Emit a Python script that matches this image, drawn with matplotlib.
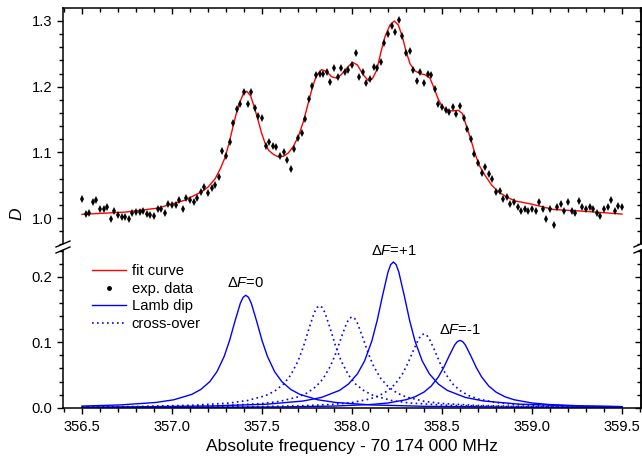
import matplotlib
matplotlib.use('Agg')
import matplotlib.pyplot as plt
from matplotlib.lines import Line2D
from matplotlib.patches import Polygon
from matplotlib.ticker import MultipleLocator

plt.rcParams['font.family'] = ['Liberation Sans', 'DejaVu Sans']
plt.rcParams['mathtext.fontset'] = 'custom'
plt.rcParams['mathtext.rm'] = 'Liberation Sans'
plt.rcParams['mathtext.it'] = 'Liberation Sans:italic'

# experimental points (MHz offset, D)
exp_f = [356.50, 356.52, 356.54, 356.56, 356.58, 356.60, 356.62, 356.64, 356.66, 356.68,
         356.70, 356.72, 356.74, 356.76, 356.78, 356.80, 356.82, 356.84, 356.86, 356.88,
         356.90, 356.92, 356.94, 356.96, 356.98, 357.00, 357.02, 357.04, 357.06, 357.08,
         357.10, 357.12, 357.14, 357.16, 357.18, 357.20, 357.22, 357.24, 357.26, 357.28,
         357.30, 357.32, 357.34, 357.36, 357.38, 357.40, 357.42, 357.44, 357.46, 357.48,
         357.50, 357.52, 357.54, 357.56, 357.58, 357.60, 357.62, 357.64, 357.66, 357.68,
         357.70, 357.72, 357.74, 357.76, 357.78, 357.80, 357.82, 357.84, 357.86, 357.88,
         357.90, 357.92, 357.94, 357.96, 357.98, 358.00, 358.02, 358.04, 358.06, 358.08,
         358.10, 358.12, 358.14, 358.16, 358.18, 358.20, 358.22, 358.24, 358.26, 358.28,
         358.30, 358.32, 358.34, 358.36, 358.38, 358.40, 358.42, 358.44, 358.46, 358.48,
         358.50, 358.52, 358.54, 358.56, 358.58, 358.60, 358.62, 358.64, 358.66, 358.68,
         358.70, 358.72, 358.74, 358.76, 358.78, 358.80, 358.82, 358.84, 358.86, 358.88,
         358.90, 358.92, 358.94, 358.96, 358.98, 359.00, 359.02, 359.04, 359.06, 359.08,
         359.10, 359.12, 359.14, 359.16, 359.18, 359.20, 359.22, 359.24, 359.26, 359.28,
         359.30, 359.32, 359.34, 359.36, 359.38, 359.40, 359.42, 359.44, 359.46, 359.48,
         359.50]
exp_d = [1.029, 1.006, 1.007, 1.024, 1.027, 1.013, 1.013, 1.017, 0.998, 1.010,
         1.005, 1.001, 1.001, 0.998, 1.008, 1.009, 1.009, 1.010, 1.006, 1.005,
         1.003, 1.013, 1.013, 1.008, 1.022, 1.020, 1.020, 1.027, 1.013, 1.031,
         1.027, 1.024, 1.031, 1.039, 1.047, 1.038, 1.046, 1.050, 1.062, 1.102,
         1.095, 1.116, 1.144, 1.166, 1.174, 1.192, 1.174, 1.192, 1.168, 1.155,
         1.152, 1.109, 1.115, 1.110, 1.108, 1.095, 1.100, 1.088, 1.074, 1.105,
         1.122, 1.129, 1.151, 1.181, 1.201, 1.218, 1.220, 1.220, 1.223, 1.207,
         1.228, 1.214, 1.229, 1.222, 1.226, 1.233, 1.251, 1.215, 1.223, 1.206,
         1.211, 1.230, 1.229, 1.238, 1.267, 1.280, 1.293, 1.283, 1.301, 1.277,
         1.251, 1.255, 1.225, 1.209, 1.223, 1.205, 1.220, 1.218, 1.196, 1.173,
         1.169, 1.165, 1.162, 1.169, 1.158, 1.170, 1.152, 1.135, 1.120, 1.098,
         1.084, 1.069, 1.077, 1.067, 1.059, 1.040, 1.041, 1.029, 1.032, 1.021,
         1.024, 1.016, 1.010, 1.013, 1.010, 1.013, 1.010, 1.024, 1.013, 0.999,
         1.013, 0.990, 1.016, 1.021, 1.010, 1.024, 1.010, 1.007, 1.026, 1.017,
         1.014, 1.016, 1.013, 1.007, 1.003, 1.013, 1.017, 1.027, 1.011, 1.018,
         1.017]

# fit curve
fit_f = [356.50, 356.60, 356.74, 356.92, 357.07, 357.165, 357.20, 357.24, 357.27, 357.296,
         357.317, 357.337, 357.357, 357.378, 357.396, 357.415, 357.437, 357.457, 357.478, 357.498,
         357.517, 357.537, 357.563, 357.591, 357.619, 357.646, 357.674, 357.702, 357.730, 357.757,
         357.781, 357.804, 357.831, 357.859, 357.887, 357.915, 357.943, 357.980, 358.004, 358.030,
         358.060, 358.091, 358.113, 358.137, 358.161, 358.183, 358.211, 358.235, 358.257, 358.280,
         358.298, 358.322, 358.350, 358.378, 358.406, 358.433, 358.457, 358.479, 358.502, 358.531,
         358.557, 358.591, 358.613, 358.637, 358.661, 358.683, 358.711, 358.739, 358.776, 358.813,
         358.859, 358.906, 359.000, 359.118, 359.304, 359.500]
fit_d = [1.0056, 1.007, 1.009, 1.015, 1.027, 1.040, 1.047, 1.060, 1.076, 1.093,
         1.114, 1.137, 1.159, 1.177, 1.189, 1.193, 1.186, 1.169, 1.149, 1.129,
         1.114, 1.103, 1.097, 1.093, 1.094, 1.099, 1.109, 1.124, 1.147, 1.175,
         1.200, 1.218, 1.226, 1.223, 1.215, 1.213, 1.219, 1.231, 1.237, 1.233,
         1.219, 1.209, 1.212, 1.225, 1.253, 1.276, 1.294, 1.300, 1.294, 1.276,
         1.256, 1.235, 1.224, 1.220, 1.218, 1.213, 1.197, 1.181, 1.169, 1.164,
         1.163, 1.164, 1.159, 1.139, 1.119, 1.098, 1.078, 1.065, 1.050, 1.040,
         1.032, 1.026, 1.021, 1.013, 1.010, 1.006]

# Lamb dip components (solid)
dip0_f = [356.50, 356.71, 356.91, 357.01, 357.11, 357.16, 357.21, 357.25, 357.29, 357.32, 357.35, 357.38,
          357.395, 357.41, 357.425, 357.44, 357.47, 357.50, 357.53, 357.57, 357.61, 357.66, 357.71, 357.81,
          357.91, 358.11, 358.41, 358.91, 359.41, 359.50]
dip0_d = [0.0025, 0.0042, 0.0080, 0.0121, 0.0204, 0.0279, 0.0399, 0.0552, 0.0786, 0.1030, 0.1326, 0.1601,
          0.1689, 0.172, 0.1689, 0.1601, 0.1326, 0.1030, 0.0786, 0.0552, 0.0399, 0.0279, 0.0204, 0.0121,
          0.0080, 0.0042, 0.0021, 0.0009, 0.0005, 0.0005]
dipp1_f = [356.50, 356.73, 357.23, 357.53, 357.73, 357.83, 357.93, 357.98, 358.03, 358.07, 358.11, 358.14,
           358.17, 358.20, 358.215, 358.23, 358.245, 358.26, 358.29, 358.32, 358.35, 358.39, 358.43, 358.48,
           358.53, 358.63, 358.73, 358.93, 359.23, 359.50]
dipp1_d = [0.0009, 0.0012, 0.0027, 0.0054, 0.0103, 0.0157, 0.0264, 0.0361, 0.0517, 0.0716, 0.1019, 0.1336,
           0.1719, 0.2076, 0.2190, 0.223, 0.2190, 0.2076, 0.1719, 0.1336, 0.1019, 0.0716, 0.0517, 0.0361,
           0.0264, 0.0157, 0.0103, 0.0054, 0.0027, 0.0017]
dipm1_f = [356.50, 357.10, 357.60, 357.90, 358.10, 358.20, 358.30, 358.35, 358.40, 358.44, 358.48, 358.51,
           358.54, 358.57, 358.585, 358.60, 358.615, 358.63, 358.66, 358.69, 358.72, 358.76, 358.80, 358.85,
           358.90, 359.00, 359.10, 359.30, 359.50]
dipm1_d = [0.0003, 0.0006, 0.0012, 0.0025, 0.0048, 0.0072, 0.0122, 0.0167, 0.0239, 0.0331, 0.0471, 0.0617,
           0.0794, 0.0959, 0.1011, 0.103, 0.1011, 0.0959, 0.0794, 0.0617, 0.0471, 0.0331, 0.0239, 0.0167,
           0.0122, 0.0072, 0.0048, 0.0025, 0.0015]

# cross-over resonances (dotted)
co1_f = [356.50, 356.82, 357.12, 357.32, 357.42, 357.52, 357.57, 357.62, 357.66, 357.70, 357.73, 357.76,
         357.79, 357.805, 357.82, 357.835, 357.85, 357.88, 357.91, 357.94, 357.98, 358.02, 358.07, 358.12,
         358.22, 358.32, 358.52, 358.82, 359.32, 359.50]
co1_d = [0.0011, 0.0019, 0.0038, 0.0072, 0.0110, 0.0185, 0.0253, 0.0362, 0.0501, 0.0713, 0.0934, 0.1203,
         0.1452, 0.1532, 0.156, 0.1532, 0.1452, 0.1203, 0.0934, 0.0713, 0.0501, 0.0362, 0.0253, 0.0185,
         0.0110, 0.0072, 0.0038, 0.0019, 0.0008, 0.0007]
co2_f = [356.50, 357.00, 357.30, 357.50, 357.60, 357.70, 357.75, 357.80, 357.84, 357.88, 357.91, 357.94,
         357.97, 357.985, 358.00, 358.015, 358.03, 358.06, 358.09, 358.12, 358.16, 358.20, 358.25, 358.30,
         358.40, 358.50, 358.70, 359.00, 359.50]
co2_d = [0.0007, 0.0017, 0.0034, 0.0064, 0.0098, 0.0165, 0.0225, 0.0323, 0.0446, 0.0635, 0.0833, 0.1072,
         0.1294, 0.1365, 0.139, 0.1365, 0.1294, 0.1072, 0.0833, 0.0635, 0.0446, 0.0323, 0.0225, 0.0165,
         0.0098, 0.0064, 0.0034, 0.0017, 0.0007]
co3_f = [356.50, 356.90, 357.40, 357.70, 357.90, 358.00, 358.10, 358.15, 358.20, 358.24, 358.28, 358.31,
         358.34, 358.37, 358.385, 358.40, 358.415, 358.43, 358.46, 358.49, 358.52, 358.56, 358.60, 358.65,
         358.70, 358.80, 358.90, 359.10, 359.40, 359.50]
co3_d = [0.0004, 0.0006, 0.0014, 0.0027, 0.0052, 0.0079, 0.0134, 0.0183, 0.0262, 0.0363, 0.0516, 0.0677,
         0.0871, 0.1052, 0.1110, 0.113, 0.1110, 0.1052, 0.0871, 0.0677, 0.0516, 0.0363, 0.0262, 0.0183,
         0.0134, 0.0079, 0.0052, 0.0027, 0.0014, 0.0011]

W, H = 642, 462
L, R, T, B, BOT = 63, 641, 8, 247, 407.7

fig = plt.figure(figsize=(W / 100, H / 100), dpi=100)
ax1 = fig.add_axes([L / W, 1 - B / H, (R - L) / W, (B - T) / H])
ax2 = fig.add_axes([L / W, 1 - BOT / H, (R - L) / W, (BOT - B) / H], sharex=ax1)

red = '#ff0000'
blue = '#0000ff'
dots = (0, (1, 2))

ax1.plot(fit_f, fit_d, color=red, lw=1.0, zorder=2)
ax1.plot(exp_f, exp_d, ls='none', marker='d', ms=4.2, color='black', mew=0, zorder=3)

for f, d in [(dip0_f, dip0_d), (dipp1_f, dipp1_d), (dipm1_f, dipm1_d)]:
    ax2.plot(f, d, color=blue, lw=1.0)
for f, d in [(co1_f, co1_d), (co2_f, co2_d), (co3_f, co3_d)]:
    ax2.plot(f, d, color=blue, lw=1.2, ls=dots)

ax1.set_xlim(356.5 - 19 / 180, 356.5 + (R - 82) / 180)
ax1.set_ylim(1.0 - (B - 218) / 656.7, 1.3 + 13 / 656.7)
ax2.set_ylim(0, (BOT - B) / 653.5)

ax2.xaxis.set_major_locator(MultipleLocator(0.5))
ax2.xaxis.set_minor_locator(MultipleLocator(0.1))
ax2.xaxis.set_major_formatter(plt.FormatStrFormatter('%.1f'))

for ax in (ax1, ax2):
    for s in ax.spines.values():
        s.set_linewidth(1.1)
    ax.yaxis.set_major_locator(MultipleLocator(0.1))
    ax.yaxis.set_minor_locator(MultipleLocator(0.02))
    ax.yaxis.set_major_formatter(plt.FormatStrFormatter('%.1f'))
    ax.tick_params(which='both', width=1.0, labelsize=10.6, pad=3)
    ax.tick_params(which='major', length=4.5)
    ax.tick_params(which='minor', length=2.8)
    ax.tick_params(axis='y', which='both', left=True, right=False, direction='out')
    # mirror ticks on the right, pointing inward
    sec = ax.secondary_yaxis('right')
    sec.yaxis.set_major_locator(MultipleLocator(0.1))
    sec.yaxis.set_minor_locator(MultipleLocator(0.02))
    sec.tick_params(which='both', direction='in', width=1.0, labelright=False)
    sec.tick_params(which='major', length=4.5)
    sec.tick_params(which='minor', length=2.8)
    sec.spines['right'].set_linewidth(1.1)

ax1.spines['bottom'].set_visible(False)
ax2.spines['top'].set_visible(False)
ax1.tick_params(axis='x', which='both', bottom=False, top=True, labelbottom=False, direction='in')
ax2.tick_params(axis='x', which='both', bottom=True, top=False, direction='out', pad=4)

ax2.set_xlabel('Absolute frequency - 70 174 000 MHz', fontsize=12.5, labelpad=4)
fig.text(17 / W, 1 - 214 / H, 'D', fontsize=12.5, style='italic', rotation=90, ha='center', va='center')

ax2.text(357.41, 0.191, r'$\Delta F$=0', ha='center', va='center', fontsize=10.6)
ax2.text(358.23, 0.240, r'$\Delta F$=+1', ha='center', va='center', fontsize=10.6)
ax2.text(358.60, 0.119, r'$\Delta F$=-1', ha='center', va='center', fontsize=10.6)

handles = [Line2D([], [], color=red, lw=1.0),
           Line2D([], [], ls='none', marker='.', ms=5, color='black'),
           Line2D([], [], color=blue, lw=1.0),
           Line2D([], [], color=blue, lw=1.2, ls=dots)]
labels = ['fit curve', 'exp. data', 'Lamb dip', 'cross-over']
fig.legend(handles, labels, loc='upper left', bbox_to_anchor=(92 / W, 1 - 264 / H),
           frameon=False, fontsize=10.6, borderpad=0, borderaxespad=0,
           handlelength=2.3, handletextpad=0.4, labelspacing=0.25)

# axis break marks on both spines
for xc in (L, R):
    yc = B
    gap = [(xc - 7, yc + 0.5), (xc + 7, yc - 5.5), (xc + 7, yc - 0.5), (xc - 7, yc + 5.5)]
    fig.patches.append(Polygon([(x / W, 1 - y / H) for x, y in gap], closed=True,
                               transform=fig.transFigure, facecolor='white', edgecolor='none', zorder=5))
    for dy in (-3, 3):
        fig.lines.append(Line2D([(xc - 7) / W, (xc + 7) / W],
                                [1 - (yc + dy + 3) / H, 1 - (yc + dy - 3) / H],
                                transform=fig.transFigure, color='black', lw=1.0, zorder=6))

fig.savefig('out.png', dpi=100)
